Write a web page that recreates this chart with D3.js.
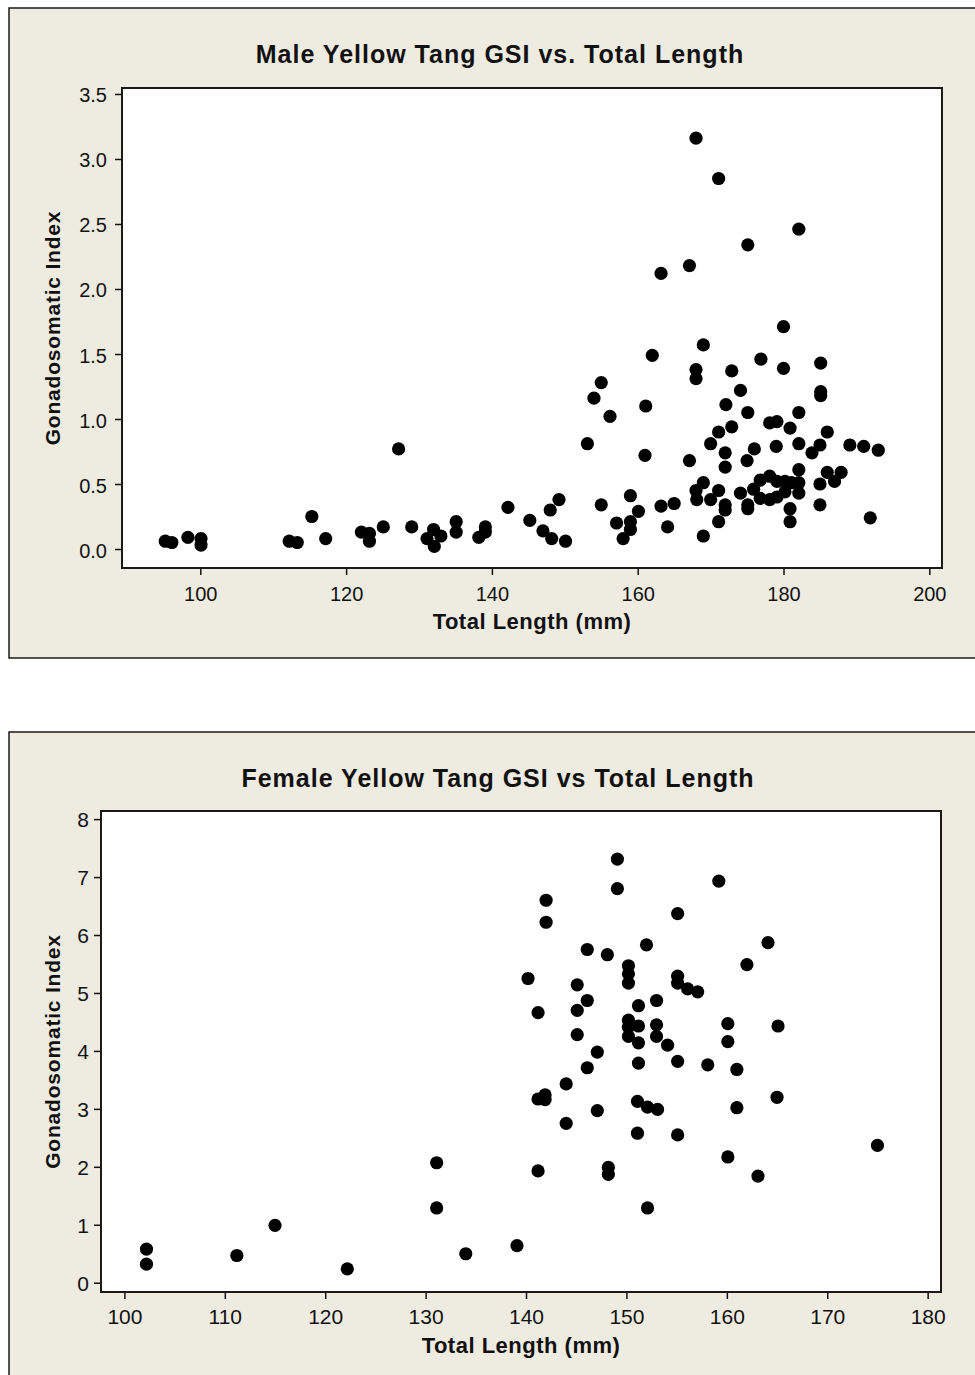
<!DOCTYPE html>
<html>
<head>
<meta charset="utf-8">
<script src="https://cdn.jsdelivr.net/npm/d3@7"></script>
<style>
  html, body { margin: 0; padding: 0; background: #ffffff; }
  svg { display: block; }
  text { font-family: "Liberation Sans", Arial, sans-serif; fill: #111; }
</style>
</head>
<body>
<svg id="chart" width="975" height="1375"></svg>
<script>
// Male yellow tang: total length (mm) and gonadosomatic index
const maleLength = [
  95.2, 96.1, 98.3, 100.1, 100.1, 112.2, 113.3, 115.3, 117.2, 122.1,
  123.2, 123.2, 125.1, 127.2, 129.0, 131.1, 132.0, 132.1, 133.0, 135.1,
  135.1, 138.2, 139.1, 139.1, 142.2, 145.2, 147.0, 148.0, 148.2, 149.2,
  150.1, 153.1, 154.0, 155.0, 155.0, 156.2, 157.1, 158.0, 159.0, 159.0,
  159.0, 160.1, 161.1, 161.0, 162.0, 163.2, 163.2, 164.1, 165.0, 167.1,
  167.1, 168.0, 168.0, 168.0, 168.0, 168.1, 169.0, 169.0, 169.0, 170.0,
  170.0, 171.1, 171.1, 171.1, 171.1, 172.1, 172.0, 172.0, 172.0, 172.0,
  172.9, 172.9, 174.1, 174.1, 175.1, 175.1, 175.0, 175.1, 175.1, 176.0,
  175.9, 176.8, 176.8, 176.9, 178.1, 178.1, 178.1, 179.1, 179.0, 179.1,
  179.1, 180.0, 180.0, 180.2, 180.2, 180.9, 180.9, 180.9, 181.1, 182.1,
  182.1, 182.1, 182.1, 182.1, 182.1, 183.9, 185.1, 185.1, 185.1, 185.0,
  185.0, 185.0, 186.0, 186.0, 187.0, 187.9, 189.1, 191.0, 191.9, 193.0
];
const maleGSI = [
  0.06, 0.05, 0.09, 0.08, 0.03, 0.06, 0.05, 0.25, 0.08, 0.13,
  0.12, 0.06, 0.17, 0.77, 0.17, 0.08, 0.15, 0.02, 0.10, 0.21,
  0.13, 0.09, 0.17, 0.13, 0.32, 0.22, 0.14, 0.30, 0.08, 0.38,
  0.06, 0.81, 1.16, 1.28, 0.34, 1.02, 0.20, 0.08, 0.41, 0.21,
  0.15, 0.29, 1.10, 0.72, 1.49, 2.12, 0.33, 0.17, 0.35, 2.18,
  0.68, 3.16, 1.38, 1.31, 0.45, 0.38, 1.57, 0.51, 0.10, 0.81,
  0.38, 2.85, 0.90, 0.45, 0.21, 1.11, 0.74, 0.63, 0.34, 0.30,
  1.37, 0.94, 1.22, 0.43, 2.34, 1.05, 0.68, 0.34, 0.31, 0.77,
  0.46, 0.53, 0.39, 1.46, 0.97, 0.56, 0.38, 0.98, 0.79, 0.52,
  0.40, 1.71, 1.39, 0.52, 0.44, 0.93, 0.31, 0.21, 0.51, 2.46,
  1.05, 0.81, 0.61, 0.51, 0.43, 0.74, 1.43, 1.21, 1.18, 0.80,
  0.50, 0.34, 0.90, 0.59, 0.52, 0.59, 0.80, 0.79, 0.24, 0.76
];

// Female yellow tang: total length (mm) and gonadosomatic index
const femaleLength = [
  102.2, 102.2, 111.2, 115.0, 122.2, 131.1, 131.1, 134.0, 139.1, 140.2,
  141.2, 141.2, 141.2, 141.9, 141.9, 142.0, 142.0, 144.0, 144.0, 145.1,
  145.1, 145.1, 146.1, 146.1, 146.1, 147.1, 147.1, 148.1, 148.2, 148.2,
  149.1, 149.1, 150.2, 150.2, 150.2, 150.2, 150.2, 150.2, 151.2, 151.2,
  151.2, 151.2, 151.1, 151.1, 152.0, 152.1, 152.1, 153.0, 153.0, 153.0,
  153.1, 154.1, 155.1, 155.1, 155.1, 155.1, 155.1, 156.1, 157.1, 158.1,
  159.2, 160.1, 160.1, 160.1, 161.0, 161.0, 162.0, 163.1, 164.1, 165.1,
  165.0, 175.0
];
const femaleGSI = [
  0.58, 0.32, 0.47, 0.99, 0.24, 2.07, 1.29, 0.50, 0.64, 5.25,
  4.66, 3.17, 1.93, 3.24, 3.16, 6.60, 6.22, 3.43, 2.75, 5.14,
  4.70, 4.28, 5.75, 4.87, 3.71, 3.98, 2.97, 5.66, 1.99, 1.87,
  7.31, 6.80, 5.47, 5.33, 5.17, 4.53, 4.41, 4.25, 4.78, 4.43,
  4.14, 3.79, 3.13, 2.58, 5.83, 3.03, 1.29, 4.87, 4.45, 4.25,
  2.99, 4.10, 6.37, 5.29, 5.17, 3.82, 2.55, 5.07, 5.02, 3.76,
  6.93, 4.47, 4.16, 2.17, 3.68, 3.02, 5.49, 1.84, 5.87, 4.43,
  3.20, 2.37
];

// Tick values for each panel
const maleXTicks = [100, 120, 140, 160, 180, 200];
const maleYTicks = [0, 0.5, 1.0, 1.5, 2.0, 2.5, 3.0, 3.5];
const femaleXTicks = [100, 110, 120, 130, 140, 150, 160, 170, 180];
const femaleYTicks = [0, 1, 2, 3, 4, 5, 6, 7, 8];

const svg = d3.select("#chart");
const BG = "#eeebe1";

function drawPanel(cfg) {
  const g = svg.append("g");

  // outer frame
  g.append("rect")
    .attr("x", cfg.frame[0]).attr("y", cfg.frame[1])
    .attr("width", cfg.frame[2]).attr("height", cfg.frame[3])
    .attr("fill", BG).attr("stroke", "#1a1a1a").attr("stroke-width", 1.5);

  const x = d3.scaleLinear().domain(cfg.xDomain).range([cfg.plot.left, cfg.plot.right]);
  const y = d3.scaleLinear().domain(cfg.yDomain).range([cfg.plot.bottom, cfg.plot.top]);

  // data area
  g.append("rect")
    .attr("x", cfg.plot.left).attr("y", cfg.plot.top)
    .attr("width", cfg.plot.right - cfg.plot.left)
    .attr("height", cfg.plot.bottom - cfg.plot.top)
    .attr("fill", "#ffffff");

  // x axis
  const xAxis = g.append("g")
    .attr("transform", `translate(0,${cfg.plot.bottom})`)
    .call(d3.axisBottom(x).tickValues(cfg.xTicks).tickSize(7).tickSizeOuter(0).tickPadding(6)
      .tickFormat(d3.format("d")));
  xAxis.select(".domain").remove();
  xAxis.selectAll(".tick line").attr("stroke", "#111").attr("stroke-width", 1.5);
  xAxis.selectAll(".tick text")
    .attr("font-size", cfg.tickFont).attr("fill", "#111")
    .attr("dy", null).attr("y", cfg.xLabelBaseline - cfg.plot.bottom);

  // y axis
  const yAxis = g.append("g")
    .attr("transform", `translate(${cfg.plot.left},0)`)
    .call(d3.axisLeft(y).tickValues(cfg.yTicks).tickSize(7).tickSizeOuter(0).tickPadding(cfg.yPad)
      .tickFormat(d3.format(cfg.yFormat)));
  yAxis.select(".domain").remove();
  yAxis.selectAll(".tick line").attr("stroke", "#111").attr("stroke-width", 1.5);
  yAxis.selectAll(".tick text")
    .attr("font-size", cfg.yTickFont).attr("fill", "#111")
    .attr("dy", cfg.yDy);

  // plot border
  g.append("rect")
    .attr("x", cfg.plot.left).attr("y", cfg.plot.top)
    .attr("width", cfg.plot.right - cfg.plot.left)
    .attr("height", cfg.plot.bottom - cfg.plot.top)
    .attr("fill", "none").attr("stroke", "#1a1a1a").attr("stroke-width", 2);

  // points
  const pts = d3.zip(cfg.xs, cfg.ys);
  g.append("g").selectAll("circle")
    .data(pts).join("circle")
    .attr("cx", d => x(d[0])).attr("cy", d => y(d[1]))
    .attr("r", 6.6).attr("fill", "#000");

  // title
  g.append("text")
    .attr("x", cfg.titleX).attr("y", cfg.titleBaseline)
    .attr("text-anchor", "middle")
    .attr("font-size", 25).attr("font-weight", "bold")
    .attr("letter-spacing", 1)
    .text(cfg.title);

  // x axis title
  g.append("text")
    .attr("x", (cfg.plot.left + cfg.plot.right) / 2).attr("y", cfg.xTitleBaseline)
    .attr("text-anchor", "middle")
    .attr("font-size", 22).attr("font-weight", "bold")
    .attr("letter-spacing", 0.5)
    .text("Total Length (mm)");

  // y axis title
  g.append("text")
    .attr("transform", `translate(60,${(cfg.plot.top + cfg.plot.bottom) / 2}) rotate(-90)`)
    .attr("text-anchor", "middle")
    .attr("font-size", 21).attr("font-weight", "bold")
    .attr("letter-spacing", 0.8)
    .text("Gonadosomatic Index");
}

drawPanel({
  frame: [9, 8, 990, 650],
  plot: { left: 122, right: 942, top: 88, bottom: 568 },
  xDomain: [89.26, 201.74],
  yDomain: [-0.146, 3.546],
  xTicks: maleXTicks,
  yTicks: maleYTicks,
  yFormat: ".1f",
  yPad: 8,
  tickFont: 20,
  yTickFont: 20,
  yDy: "0.4em",
  xLabelBaseline: 601,
  xTitleBaseline: 629,
  titleX: 500,
  titleBaseline: 63,
  title: "Male Yellow Tang GSI vs. Total Length",
  xs: maleLength,
  ys: maleGSI
});

drawPanel({
  frame: [9, 732, 990, 700],
  plot: { left: 101, right: 941, top: 811, bottom: 1292 },
  xDomain: [97.67, 181.33],
  yDomain: [-0.16, 8.14],
  xTicks: femaleXTicks,
  yTicks: femaleYTicks,
  yFormat: "d",
  yPad: 5,
  tickFont: 21,
  yTickFont: 21,
  yDy: "0.36em",
  xLabelBaseline: 1324,
  xTitleBaseline: 1353,
  titleX: 498,
  titleBaseline: 787,
  title: "Female Yellow Tang GSI vs Total Length",
  xs: femaleLength,
  ys: femaleGSI
});
</script>
</body>
</html>
